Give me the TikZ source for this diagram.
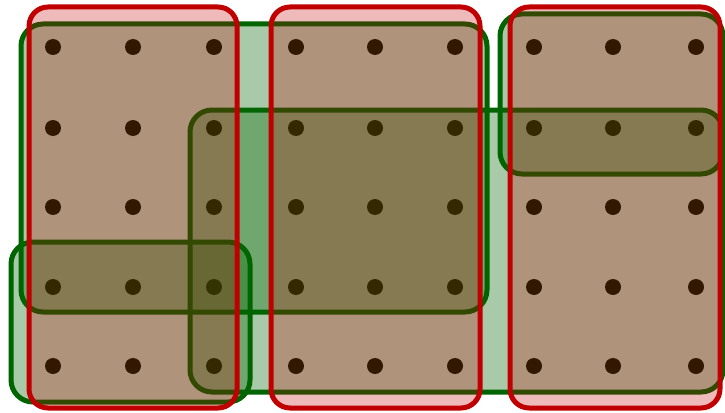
\documentclass[tikz,border=0pt]{standalone}
\definecolor{setgreen}{RGB}{0,100,0}
\definecolor{setred}{RGB}{192,0,0}
\begin{document}
\begin{tikzpicture}[x=1pt, y=-1pt,
      dot/.style={circle, fill=black, inner sep=0pt, minimum size=16pt},
      gset/.style={draw=setgreen, line width=5pt, rounded corners=22pt, fill=setgreen, fill opacity=0.34},
      rset/.style={draw=setred, line width=5pt, rounded corners=19pt, fill=setred, fill opacity=0.27}
    ]
      \useasboundingbox (0,0) rectangle (725,412);

      % vertices
      \foreach \x [count=\i] in {53,133,214,296,375,455,534,613,696}
        \foreach \y [count=\j] in {47,128,207,287,366}
          \node[dot] (v\i\j) at (\x,\y) {};

      % green sets
      \draw[gset] (21,24)   rectangle (487,312);
      \draw[gset] (11,242)  rectangle (250,402);
      \draw[gset] (190,110) rectangle (723,392);
      \draw[gset] (500,14)  rectangle (723,174);

      % red sets
      \draw[rset] (29,7)  rectangle (237,408);
      \draw[rset] (271,7) rectangle (480,408);
      \draw[rset] (510,7) rectangle (720,408);
    \end{tikzpicture}
\end{document}
